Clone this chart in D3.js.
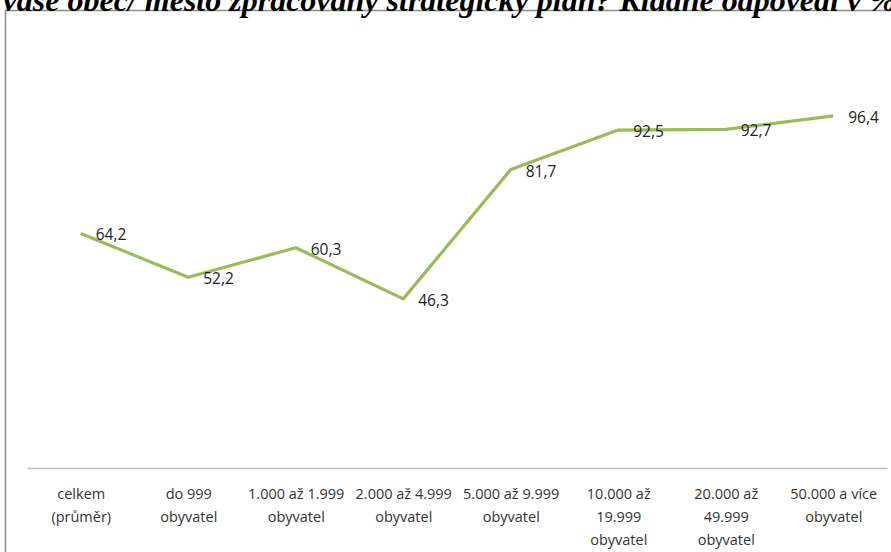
<!DOCTYPE html>
<html>
<head>
<meta charset="utf-8">
<script src="https://cdn.jsdelivr.net/npm/d3@7"></script>
<style>
  body { margin: 0; background: #fff; overflow: hidden; }
  .title { font-family: "Liberation Serif", serif; font-weight: bold; font-style: italic; font-size: 32px; fill: #000; }
  .tick text { font-family: "Open Sans", "Noto Sans", sans-serif; font-size: 14.5px; fill: #333; }
  .val { font-family: "Open Sans", "Noto Sans", sans-serif; font-size: 15.5px; fill: #222; }
</style>
</head>
<body>
<script>
//data
var categories = ["celkem (průměr)", "do 999 obyvatel", "1.000 až 1.999 obyvatel", "2.000 až 4.999 obyvatel",
    "5.000 až 9.999 obyvatel", "10.000 až 19.999 obyvatel", "20.000 až 49.999 obyvatel", "50.000 a více obyvatel"];
//how Excel wrapped each category label
var tickLines = [
    ["celkem", "(průměr)"],
    ["do 999", "obyvatel"],
    ["1.000 až 1.999", "obyvatel"],
    ["2.000 až 4.999", "obyvatel"],
    ["5.000 až 9.999", "obyvatel"],
    ["10.000 až", "19.999", "obyvatel"],
    ["20.000 až", "49.999", "obyvatel"],
    ["50.000 a více", "obyvatel"]
];
var values = [64.2, 52.2, 60.3, 46.3, 81.7, 92.5, 92.7, 96.4];
var title = "Má vaše obec/ město zpracovaný strategický plán? Kladné odpovědi v %";

var w = 891, h = 552;
var svg = d3.select("body").append("svg")
    .attr("width", w)
    .attr("height", h);

//chart frame
svg.append("rect")
    .attr("x", 5.5).attr("y", 10.5)
    .attr("width", 920).attr("height", 600)
    .style("fill", "none")
    .style("stroke", "#8c8c8c")
    .style("stroke-width", 1.5);

//title (runs off both sides in the original)
svg.append("text")
    .attr("class", "title")
    .attr("x", 423)
    .attr("y", 11)
    .attr("text-anchor", "middle")
    .text(title);

var x = d3.scalePoint()
    .domain(categories)
    .range([27, 887])
    .padding(0.5);

var y = d3.scaleLinear()
    .domain([0, 100])
    .range([468, 102.7]);

//category axis
var xAxis = d3.axisBottom(x).tickSize(0).tickPadding(0);
var gx = svg.append("g")
    .attr("transform", "translate(0,468)")
    .call(xAxis);
gx.select(".domain").style("stroke", "#bfbfbf").style("stroke-width", 1.5);
gx.selectAll(".tick text").each(function(d, i){
    var t = d3.select(this).text(null).attr("y", 0).attr("dy", null);
    tickLines[i].forEach(function(line, j){
        t.append("tspan")
            .attr("x", 0)
            .attr("y", 31 + j * 23)
            .text(line);
    });
});

//the line
var line = d3.line()
    .x(function(d, i){ return x(categories[i]); })
    .y(function(d){ return y(d); });

svg.append("path")
    .datum(values)
    .attr("d", line)
    .style("fill", "none")
    .style("stroke", "#9bbb59")
    .style("stroke-width", 3.2)
    .style("stroke-linejoin", "round");

//value labels right of each point
var fmt = function(v){ return d3.format(".1f")(v).replace(".", ","); };
svg.selectAll(".val")
    .data(values)
    .enter()
    .append("text")
    .attr("class", "val")
    .attr("x", function(d, i){ return x(categories[i]) + 15; })
    .attr("y", function(d){ return y(d) + 7; })
    .text(fmt);
</script>
</body>
</html>
